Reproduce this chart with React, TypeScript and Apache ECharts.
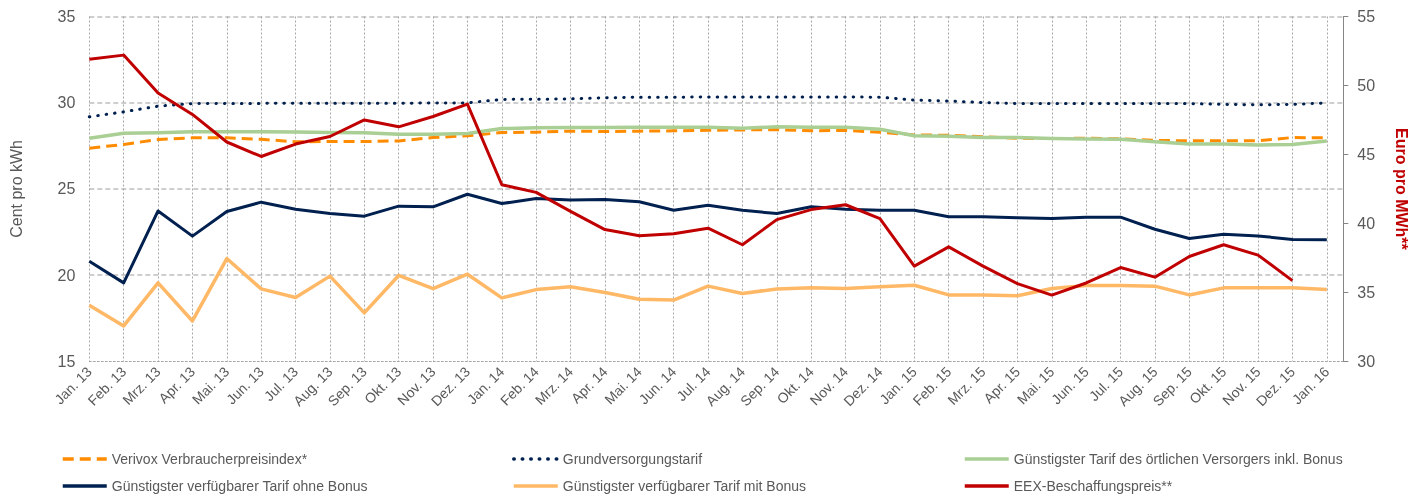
import React, { useEffect, useRef } from "react";
import * as echarts from "echarts";

const categories = [
  "Jan. 13", "Feb. 13", "Mrz. 13", "Apr. 13", "Mai. 13", "Jun. 13", "Jul. 13", "Aug. 13", "Sep. 13", "Okt. 13", "Nov. 13", "Dez. 13",
  "Jan. 14", "Feb. 14", "Mrz. 14", "Apr. 14", "Mai. 14", "Jun. 14", "Jul. 14", "Aug. 14", "Sep. 14", "Okt. 14", "Nov. 14", "Dez. 14",
  "Jan. 15", "Feb. 15", "Mrz. 15", "Apr. 15", "Mai. 15", "Jun. 15", "Jul. 15", "Aug. 15", "Sep. 15", "Okt. 15", "Nov. 15", "Dez. 15",
  "Jan. 16",
];

const verivox = [
  27.36, 27.58, 27.86, 27.96, 27.96, 27.88, 27.73, 27.75, 27.75, 27.78, 27.98, 28.08,
  28.27, 28.29, 28.35, 28.33, 28.35, 28.37, 28.4, 28.42, 28.44, 28.37, 28.39, 28.29,
  28.13, 28.11, 28.02, 27.94, 27.92, 27.94, 27.9, 27.81, 27.79, 27.79, 27.79, 27.98,
  27.96,
];

const grundversorgung = [
  29.18, 29.47, 29.8, 29.95, 29.96, 29.96, 29.97, 29.97, 29.97, 29.97, 29.98, 29.99,
  30.19, 30.2, 30.22, 30.28, 30.32, 30.32, 30.33, 30.33, 30.33, 30.33, 30.33, 30.32,
  30.15, 30.1, 30.01, 29.95, 29.95, 29.95, 29.95, 29.95, 29.95, 29.9, 29.88, 29.9,
  29.99,
];

const oertlich = [
  27.94, 28.23, 28.25, 28.31, 28.31, 28.31, 28.3, 28.27, 28.25, 28.17, 28.17, 28.21,
  28.5, 28.54, 28.56, 28.56, 28.58, 28.58, 28.58, 28.52, 28.6, 28.58, 28.58, 28.46,
  28.08, 28.06, 27.98, 27.98, 27.92, 27.9, 27.88, 27.73, 27.6, 27.6, 27.55, 27.57,
  27.78,
];

const ohneBonus = [
  20.8, 19.55, 23.72, 22.26, 23.69, 24.23, 23.82, 23.57, 23.42, 24.0, 23.96, 24.69,
  24.15, 24.44, 24.35, 24.38, 24.25, 23.76, 24.05, 23.76, 23.57, 23.96, 23.82, 23.76,
  23.76, 23.38, 23.38, 23.32, 23.28, 23.36, 23.36, 22.66, 22.12, 22.37, 22.27, 22.07,
  22.05,
];

const mitBonus = [
  18.25, 17.05, 19.55, 17.34, 20.96, 19.2, 18.7, 19.94, 17.81, 19.98, 19.22, 20.05,
  18.68, 19.16, 19.32, 18.99, 18.6, 18.55, 19.36, 18.93, 19.2, 19.26, 19.22, 19.32,
  19.41, 18.85, 18.84, 18.8, 19.22, 19.4, 19.4, 19.36, 18.85, 19.26, 19.27, 19.27,
  19.16,
];

const eex = [
  51.9, 52.2, 49.45, 47.9, 45.9, 44.85, 45.75, 46.3, 47.5, 47.0, 47.75, 48.65,
  42.8, 42.25, 40.87, 39.55, 39.1, 39.25, 39.65, 38.45, 40.27, 41.0, 41.35, 40.34,
  36.9, 38.3, 36.9, 35.63, 34.8, 35.68, 36.8, 36.1, 37.6, 38.45, 37.7, 35.85,
  null,
];

const leftTicks = { min: 15, max: 35, interval: 5 };
const rightTicks = { min: 30, max: 55, interval: 5 };

const names = {
  verivox: "Verivox Verbraucherpreisindex*",
  grund: "Grundversorgungstarif",
  oertlich: "Günstigster Tarif des örtlichen Versorgers inkl. Bonus",
  ohne: "Günstigster verfügbarer Tarif ohne Bonus",
  mit: "Günstigster verfügbarer Tarif mit Bonus",
  eex: "EEX-Beschaffungspreis**",
};

export default function App() {
  const ref = useRef<HTMLDivElement>(null);
  useEffect(() => {
    const chart = echarts.init(ref.current!, null, { renderer: "svg" });
    const font = "'Liberation Sans', Arial, sans-serif";
    const gray = "#595959";
    const toPts = (arr: (number | null)[]) => arr.map((v, i) => [i, v]);
    const mk = (name: string, data: (number | null)[], color: string, width: number, type: any, cap: string, yAxisIndex = 0) => ({
      name,
      type: "line",
      data: toPts(data),
      yAxisIndex,
      symbol: "none",
      connectNulls: false,
      lineStyle: { color, width, type, cap, join: "round" },
      itemStyle: { color },
    });
    const legendBase = {
      orient: "vertical",
      top: 452,
      height: 60,
      width: 440,
      padding: 0,
      itemWidth: 44,
      itemHeight: 14,
      itemGap: 13,
      textStyle: { fontFamily: font, fontSize: 14, color: gray },
      lineStyle: { width: 3.5 },
      itemStyle: { opacity: 0 },
    };
    chart.setOption({
      animation: false,
      textStyle: { fontFamily: font },
      grid: { left: 89.3, right: 68.7, top: 16.5, bottom: 133.7, containLabel: false, outerBoundsMode: "none" },
      legend: [
        { ...legendBase, left: 61, data: [names.verivox, names.ohne] },
        { ...legendBase, left: 512, data: [names.grund, names.mit] },
        { ...legendBase, left: 963, data: [names.oertlich, names.eex] },
      ],
      xAxis: {
        type: "value",
        min: 0,
        max: 36.48,
        interval: 1,
        axisLine: { show: true, lineStyle: { color: "#a6a6a6", type: [2, 2], width: 1 } },
        axisTick: { show: false },
        splitLine: { show: true, lineStyle: { color: "#a6a6a6", type: [2, 2], width: 1 } },
        axisLabel: {
          rotate: 45,
          fontSize: 14,
          color: gray,
          fontFamily: font,
          margin: 8,
          formatter: (v: number) => (Number.isInteger(v) && categories[v] ? categories[v] : ""),
        },
      },
      yAxis: [
        {
          type: "value",
          ...leftTicks,
          name: "Cent pro kWh",
          nameLocation: "middle",
          nameGap: 65,
          nameTextStyle: { fontSize: 16, color: gray, fontFamily: font },
          axisLine: { show: false },
          axisTick: { show: false },
          axisLabel: { fontSize: 16, color: gray, margin: 14, fontFamily: font },
          splitLine: { show: true, showMinLine: false, lineStyle: { color: "#bfbfbf", type: [5, 3], width: 1.5 } },
        },
        {
          type: "value",
          position: "right",
          ...rightTicks,
          name: "Euro pro MWh**",
          nameLocation: "middle",
          nameRotate: -90,
          nameGap: 50,
          nameTextStyle: { fontSize: 16, color: "#c00000", fontWeight: "bold", fontFamily: font },
          axisLine: { show: true, lineStyle: { color: "#868686", width: 1 } },
          axisTick: { show: true, length: 5, lineStyle: { color: "#868686" } },
          axisLabel: { fontSize: 16, color: gray, margin: 14, fontFamily: font },
          splitLine: { show: false },
        },
      ],
      series: [
        mk(names.verivox, verivox, "#ff8c00", 3, [11, 6], "butt"),
        mk(names.grund, grundversorgung, "#002050", 3, [0.5, 8], "round"),
        mk(names.oertlich, oertlich, "#a9cf94", 3.5, "solid", "butt"),
        mk(names.ohne, ohneBonus, "#002050", 3, "solid", "butt"),
        mk(names.mit, mitBonus, "#ffb866", 3.5, "solid", "butt"),
        mk(names.eex, eex, "#c00000", 3, "solid", "butt", 1),
      ],
    });
    return () => chart.dispose();
  }, []);
  return <div ref={ref} style={{ position: "fixed", left: 0, top: 0, width: 1412, height: 495 }} />;
}
